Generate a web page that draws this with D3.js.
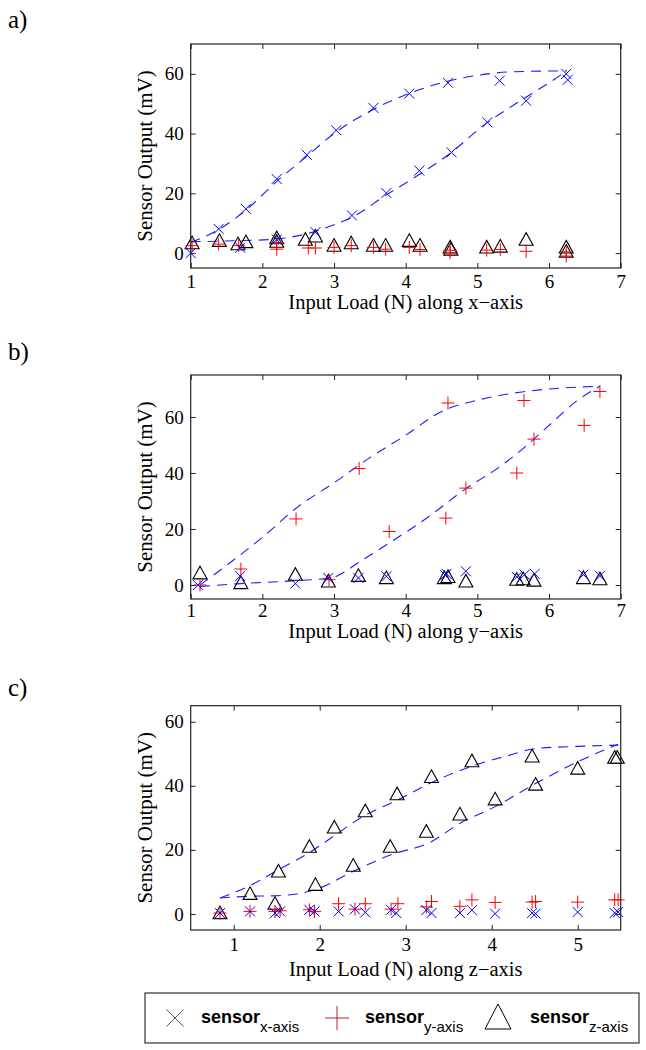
<!DOCTYPE html>
<html><head><meta charset="utf-8">
<script src="https://cdn.jsdelivr.net/npm/d3@7"></script>
<style>body{margin:0;background:#fff}</style>
</head><body>
<svg id="c" width="646" height="1050"></svg>
<script>
// ---------- DATA ----------
// Panel a) load along x-axis
const aXTicks = [1,2,3,4,5,6,7];
const aYTicks = [0,20,40,60];
const aSensorX = [[1.39,8.1],[1.77,14.8],[2.20,24.8],[2.62,32.9],[3.03,41.1],[3.55,48.6],[4.05,53.4],[4.59,57.0],[5.31,57.7],[6.24,60.0],[6.26,58.0],
  [1.0,0],[1.69,1.8],[2.2,4.5],[2.74,7.0],[3.25,12.6],[3.73,20.1],[4.19,27.6],[4.64,33.7],[5.14,43.8],[5.68,51.0]];
const aSensorY = [[1.02,2.5],[1.39,3.0],[1.67,2.5],[2.2,3.5],[2.2,1.3],[2.64,1.7],[2.74,1.7],[3.0,1.9],[3.24,2.5],[3.55,1.9],[3.72,1.3],
  [4.05,1.9],[4.2,1.2],[4.62,0.9],[4.62,0.1],[5.13,1.0],[5.32,1.2],[5.68,0.6],[6.24,0.4],[6.24,-1.0]];
const aSensorZ = [[1.02,3.3],[1.40,4.1],[1.66,3.0],[1.77,3.7],[2.2,5.0],[2.2,3.8],[2.6,4.5],[2.74,5.6],[3.0,2.5],[3.24,3.3],[3.55,2.5],[3.72,2.5],
  [4.05,4.1],[4.2,2.5],[4.62,1.9],[4.63,1.2],[5.13,1.9],[5.32,2.2],[5.68,4.5],[6.24,1.9],[6.24,0.5]];
const aFitUpper = [[1.0,3.5],[1.4,8],[1.8,15],[2.2,24],[2.6,32],[3.0,40],[3.5,47.5],[4.0,53],[4.5,57],[5.0,59.5],[5.5,60.7],[6.25,61]];
const aFitLower = [[1.0,3.8],[1.6,4.1],[2.2,4.7],[2.7,7],[3.0,9.5],[3.25,12],[3.7,19],[4.2,26.5],[4.6,33],[5.1,43],[5.6,51],[6.0,57],[6.25,61]];

// Panel b) load along y-axis
const bXTicks = [1,2,3,4,5,6,7];
const bYTicks = [0,20,40,60];
const bSensorX = [[1.1,0],[1.69,3.2],[2.46,0.5],[2.92,2.5],[3.34,2.5],[3.73,3.1],[4.55,3.5],[4.57,4.0],[4.84,4.9],[5.55,2.9],[5.66,3.7],[5.80,4.0],[6.48,3.7],[6.71,3.3]];
const bSensorY = [[1.13,0],[1.70,5.7],[2.47,23.6],[2.93,1.9],[3.35,41.6],[3.77,19.1],[4.56,23.9],[4.59,65.0],[4.84,34.6],[5.55,40.0],[5.65,65.9],[5.79,52.1],[6.49,57.0],[6.71,69.1]];
const bSensorZ = [[1.13,4.2],[1.70,0.7],[2.46,3.7],[2.92,1.3],[3.34,3.3],[3.73,2.5],[4.54,2.5],[4.59,2.9],[4.84,1.3],[5.55,1.9],[5.64,2.1],[5.79,1.6],[6.48,2.5],[6.71,2.1]];
const bFitUpper = [[1.13,0],[1.5,7],[2.0,17],[2.5,28],[3.0,36.5],[3.5,45.5],[4.0,53.5],[4.5,62],[5.0,66],[5.5,68.5],[6.0,70],[6.71,71]];
const bFitLower = [[1.13,-0.5],[1.7,0.5],[2.5,1.6],[2.95,2.5],[3.4,9],[3.8,15.5],[4.3,24],[4.85,34.6],[5.3,42],[5.65,49],[6.0,57],[6.4,66],[6.71,71]];

// Panel c) load along z-axis
const cXTicks = [1,2,3,4,5];
const cYTicks = [0,20,40,60];
const cSensorX = [[0.84,0.3],[1.19,0.8],[1.48,0.3],[1.54,0.8],[1.88,1.3],[1.94,0.8],[2.22,0.8],[2.41,1.5],[2.53,0.5],[2.83,1.3],[2.89,0.3],
  [3.24,1.2],[3.30,0.3],[3.63,0.3],[3.77,1.2],[4.04,0.1],[4.47,0.3],[4.51,0.1],[5.0,0.6],[5.43,0.3],[5.47,0.6]];
const cSensorY = [[0.84,0.3],[1.19,0.8],[1.48,0.8],[1.54,1.0],[1.88,1.3],[1.94,0.8],[2.22,3.2],[2.41,1.5],[2.53,3.2],[2.83,1.5],[2.91,3.2],
  [3.24,2.2],[3.30,3.9],[3.63,2.4],[3.77,4.4],[4.04,3.6],[4.47,3.7],[4.51,3.9],[5.0,3.7],[5.43,4.4],[5.47,4.4]];
const cSensorZ = [[0.84,0.3],[1.19,6.3],[1.48,3.2],[1.52,13.3],[1.88,21],[1.95,9.1],[2.17,27],[2.39,15.1],[2.53,32.1],[2.82,21],[2.90,37.4],
  [3.24,25.7],[3.30,42.8],[3.63,31.1],[3.77,47.7],[4.04,35.8],[4.47,49.2],[4.51,40.4],[5.0,45.4],[5.43,48.8],[5.46,48.8]];
const cFitUpper = [[0.84,5],[1.2,9],[1.5,13.5],[1.9,19.5],[2.2,25],[2.5,30.4],[2.9,35.5],[3.3,41],[3.8,46.4],[4.2,49.5],[4.5,51.6],[5.0,52.3],[5.47,52.7]];
const cFitLower = [[0.84,5],[1.15,5.5],[1.5,5.7],[1.95,7.6],[2.39,13.3],[2.82,18.4],[3.28,22.3],[3.63,28.3],[4.04,33.5],[4.51,40.7],[5.0,47.5],[5.47,53]];

const xLabels = ["Input Load (N) along x\u2212axis","Input Load (N) along y\u2212axis","Input Load (N) along z\u2212axis"];
const panelLetters = ["a)","b)","c)"];
const legendNames = ["x-axis","y-axis","z-axis"];

// ---------- LAYOUT ----------
const svg = d3.select("#c");
const L = 190.7, R = 620.7;
const panels = [
  {letter:panelLetters[0], top:44, bottom:268, xd:[1,7], yd:[-5,70], xt:aXTicks, yt:aYTicks, sx:aSensorX, sy:aSensorY, sz:aSensorZ, fits:[aFitUpper,aFitLower], xl:xLabels[0], tickPad:7, titleY:309, letterY:20},
  {letter:panelLetters[1], top:375, bottom:599, xd:[1,7], yd:[-5,75], xt:bXTicks, yt:bYTicks, sx:bSensorX, sy:bSensorY, sz:bSensorZ, fits:[bFitUpper,bFitLower], xl:xLabels[1], tickPad:5, titleY:638, letterY:352},
  {letter:panelLetters[2], top:705.7, bottom:930, xd:[0.5,5.5], yd:[-5,65], xt:cXTicks, yt:cYTicks, sx:cSensorX, sy:cSensorY, sz:cSensorZ, fits:[cFitUpper,cFitLower], xl:xLabels[2], tickPad:8, titleY:976, letterY:688}
];
const serif = "'Liberation Serif','Times New Roman',serif";
const BLUE = "#0000ff", RED = "#ff0000";

function drawX(g, cx, cy, s, color){
  g.append("path").attr("d",`M${cx-s},${cy-s}L${cx+s},${cy+s}M${cx-s},${cy+s}L${cx+s},${cy-s}`)
   .attr("stroke",color).attr("stroke-width",1).attr("fill","none");
}
function drawPlus(g, cx, cy, s, color){
  g.append("path").attr("d",`M${cx-s},${cy}L${cx+s},${cy}M${cx},${cy-s}L${cx},${cy+s}`)
   .attr("stroke",color).attr("stroke-width",1).attr("fill","none");
}
function drawTri(g, cx, cy, s, color){
  const h = s*1.0;
  g.append("path").attr("d",`M${cx},${cy-h}L${cx+s},${cy+h*0.8}L${cx-s},${cy+h*0.8}Z`)
   .attr("stroke",color).attr("stroke-width",1.1).attr("fill","none");
}

panels.forEach(p=>{
  const x = d3.scaleLinear().domain(p.xd).range([L,R]);
  const y = d3.scaleLinear().domain(p.yd).range([p.bottom,p.top]);
  const g = svg.append("g");

  // panel letter
  svg.append("text").attr("x",8).attr("y",p.letterY+8).text(p.letter)
    .attr("font-family",serif).attr("font-size",25).attr("fill","#000");

  // fits
  const line = d3.line().x(d=>x(d[0])).y(d=>y(d[1])).curve(d3.curveMonotoneX);
  p.fits.forEach(f=>{
    g.append("path").attr("d",line(f)).attr("fill","none").attr("stroke","#1a1aff")
     .attr("stroke-width",1.1).attr("stroke-dasharray","10,7");
  });

  // markers
  p.sz.forEach(d=>drawTri(g,x(d[0]),y(d[1]),7,"#000"));
  p.sy.forEach(d=>drawPlus(g,x(d[0]),y(d[1]),6.5,RED));
  p.sx.forEach(d=>drawX(g,x(d[0]),y(d[1]),5,BLUE));

  // axes
  const ax = svg.append("g");
  ax.append("g").attr("transform",`translate(0,${p.bottom})`)
    .call(d3.axisBottom(x).tickValues(p.xt).tickSizeInner(-5).tickSizeOuter(0).tickPadding(p.tickPad).tickFormat(d3.format("d")));
  ax.append("g").attr("transform",`translate(0,${p.top})`)
    .call(d3.axisTop(x).tickValues(p.xt).tickSizeInner(-5).tickSizeOuter(0).tickFormat(""));
  ax.append("g").attr("transform",`translate(${L},0)`)
    .call(d3.axisLeft(y).tickValues(p.yt).tickSizeInner(-5).tickSizeOuter(0).tickPadding(7).tickFormat(d3.format("d")));
  ax.append("g").attr("transform",`translate(${R},0)`)
    .call(d3.axisRight(y).tickValues(p.yt).tickSizeInner(-5).tickSizeOuter(0).tickFormat(""));
  ax.selectAll(".domain").remove();
  ax.selectAll(".tick line").attr("stroke","#222").attr("stroke-width",1);
  ax.selectAll(".tick text").attr("font-family",serif).attr("font-size",19).attr("fill","#000");
  ax.append("rect").attr("x",L).attr("y",p.top).attr("width",R-L).attr("height",p.bottom-p.top)
    .attr("fill","none").attr("stroke","#222").attr("stroke-width",1.2);

  // titles
  svg.append("text").attr("x",(L+R)/2).attr("y",p.titleY).attr("text-anchor","middle")
    .attr("font-family",serif).attr("font-size",20.5).attr("fill","#000").text(p.xl);
  svg.append("text").attr("transform",`translate(145,${(p.top+p.bottom)/2}) rotate(-90)`)
    .attr("text-anchor","middle").attr("dy","0.35em")
    .attr("font-family",serif).attr("font-size",21).attr("fill","#000").text("Sensor Output (mV)");
});

// ---------- LEGEND ----------
const lg = svg.append("g");
lg.append("rect").attr("x",145).attr("y",993).attr("width",494).attr("height",50)
  .attr("fill","#fff").attr("stroke","#333").attr("stroke-width",1.2);
const ly = 1018;
drawX(lg,175,ly,8.5,"#556");
drawPlus(lg,337,ly,12,"#b22");
lg.append("path").attr("d",`M498,${ly-14}L511,${ly+11}L485,${ly+11}Z`).attr("fill","none").attr("stroke","#000").attr("stroke-width",1);
const lx = [201,365,530];
legendNames.forEach((n,i)=>{
  const t = lg.append("text").attr("x",lx[i]).attr("y",ly+5).attr("font-family","'Liberation Sans',Arial,sans-serif").attr("fill","#000");
  t.append("tspan").attr("font-size",18).attr("font-weight","bold").text("sensor");
  t.append("tspan").attr("font-size",15).attr("dy",9).text(n);
});
</script>
</body></html>
